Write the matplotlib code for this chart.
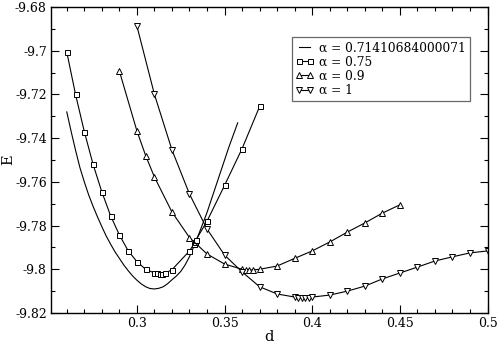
''' energy E versus d for several alpha values '''

import matplotlib
matplotlib.use('Agg')
import matplotlib.pyplot as plt
from matplotlib.ticker import MultipleLocator

# alpha = 0.71410684000071 (plain line)
d_a0 = [0.26, 0.2625, 0.265, 0.2675, 0.27, 0.2725, 0.275, 0.2775, 0.28, 0.2825,
        0.285, 0.2875, 0.29, 0.2925, 0.295, 0.2975, 0.30, 0.3025, 0.305, 0.3075,
        0.31, 0.3125, 0.315, 0.3175, 0.32, 0.3225, 0.325, 0.3275, 0.33, 0.3325,
        0.335, 0.3375, 0.34, 0.3425, 0.345, 0.3475, 0.35, 0.3525, 0.355, 0.3575]
e_a0 = [-9.728, -9.737, -9.7455, -9.7535, -9.760, -9.766, -9.7712, -9.776,
        -9.7805, -9.7848, -9.7885, -9.792, -9.795, -9.798, -9.8006, -9.803,
        -9.805, -9.8067, -9.808, -9.8088, -9.809, -9.8087, -9.808, -9.8066,
        -9.8048, -9.8031, -9.801, -9.798, -9.7942, -9.7895, -9.7845, -9.7793,
        -9.774, -9.768, -9.762, -9.756, -9.750, -9.744, -9.7385, -9.733]

# alpha = 0.75 (squares)
d_a1 = [0.26, 0.265, 0.27, 0.275, 0.28, 0.285, 0.29, 0.295, 0.30, 0.305, 0.31,
        0.3115, 0.313, 0.3145, 0.316, 0.32, 0.33, 0.3325, 0.333, 0.3335, 0.34,
        0.35, 0.36, 0.37]
e_a1 = [-9.7006, -9.720, -9.737, -9.752, -9.7646, -9.7755, -9.7843, -9.7915,
        -9.7965, -9.800, -9.8017, -9.8019, -9.802, -9.802, -9.8018, -9.8002,
        -9.7916, -9.7885, -9.7875, -9.7868, -9.778, -9.7616, -9.7448, -9.7255]

# alpha = 0.9 (up triangles)
d_a2 = [0.29, 0.30, 0.305, 0.31, 0.32, 0.33, 0.34, 0.35, 0.36, 0.362, 0.364,
        0.366, 0.37, 0.38, 0.39, 0.40, 0.41, 0.42, 0.43, 0.44, 0.45]
e_a2 = [-9.7093, -9.7367, -9.748, -9.7578, -9.7738, -9.7855, -9.793, -9.7976,
        -9.800, -9.8003, -9.8004, -9.8003, -9.800, -9.7985, -9.795, -9.7916,
        -9.7875, -9.783, -9.7788, -9.7743, -9.7705]

# alpha = 1 (down triangles)
d_a3 = [0.30, 0.31, 0.32, 0.33, 0.34, 0.35, 0.36, 0.37, 0.38, 0.39, 0.392,
        0.394, 0.396, 0.398, 0.40, 0.41, 0.42, 0.43, 0.44, 0.45, 0.46, 0.47,
        0.48, 0.49, 0.50]
e_a3 = [-9.6887, -9.720, -9.7454, -9.7656, -9.7816, -9.7935, -9.8012, -9.808,
        -9.8113, -9.8127, -9.8131, -9.8133, -9.8133, -9.8131, -9.8127, -9.8118,
        -9.810, -9.8077, -9.8044, -9.8017, -9.799, -9.7962, -9.7943, -9.7925,
        -9.7916]

labels = ['α = 0.71410684000071', 'α = 0.75', 'α = 0.9', 'α = 1']

plt.rcParams['font.family'] = 'DejaVu Serif'
plt.rcParams['axes.unicode_minus'] = False

fig = plt.figure(figsize=(4.98, 3.44), dpi=100)
ax = fig.add_axes([0.1024, 0.0901, 0.979 - 0.1024, 0.9797 - 0.0901])

mk = dict(color='black', linewidth=0.8, markerfacecolor='white',
          markeredgecolor='black', markeredgewidth=0.7)
ax.plot(d_a0, e_a0, color='black', linewidth=0.8, label=labels[0])
ax.plot(d_a1, e_a1, marker='s', markersize=3.6, label=labels[1], **mk)
ax.plot(d_a2, e_a2, marker='^', markersize=4.2, label=labels[2], **mk)
ax.plot(d_a3, e_a3, marker='v', markersize=4.2, label=labels[3], **mk)

ax.set_xlim(0.251, 0.5)
ax.set_ylim(-9.82, -9.68)
ax.xaxis.set_minor_locator(MultipleLocator(0.01))
ax.yaxis.set_minor_locator(MultipleLocator(0.01))
ax.set_xticks([0.3, 0.35, 0.4, 0.45, 0.5])
ax.set_xticklabels(['0.3', '0.35', '0.4', '0.45', '0.5'])
ax.set_yticks([-9.82, -9.8, -9.78, -9.76, -9.74, -9.72, -9.7, -9.68])
ax.set_yticklabels(['-9.82', '-9.8', '-9.78', '-9.76', '-9.74', '-9.72',
                    '-9.7', '-9.68'])
ax.tick_params(which='both', direction='in', top=True, right=True,
               labelsize=9, width=0.8, pad=3)
ax.tick_params(which='major', length=6)
ax.tick_params(which='minor', length=3)
for s in ax.spines.values():
    s.set_linewidth(1.0)

ax.set_xlabel('d', fontsize=10.5, labelpad=0)
ax.set_ylabel('E', fontsize=10.5, labelpad=0)

leg = ax.legend(loc='upper right', bbox_to_anchor=(0.96, 0.902),
                borderaxespad=0, fontsize=8.8, numpoints=2, handlelength=1.5,
                handletextpad=0.4, labelspacing=0.1, borderpad=0.35,
                frameon=True, fancybox=False)
leg.get_frame().set_edgecolor('#444444')
leg.get_frame().set_linewidth(0.9)

fig.savefig('out.png', dpi=100)
